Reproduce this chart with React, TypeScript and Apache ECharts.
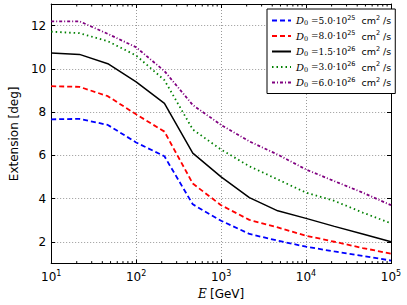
import React, { useEffect, useRef } from "react";
import * as echarts from "echarts";

const energies = [10, 21.54, 46.42, 100, 215.4, 464.2, 1000, 2154, 4642, 10000, 21544, 46416, 100000];
const seriesNames = ["5.0", "8.0", "1.5", "3.0", "6.0"];
const seriesExp = ["25", "25", "26", "26", "26"];
const blueVals = [7.67, 7.69, 7.41, 6.6, 5.96, 3.74, 2.98, 2.37, 2.06, 1.78, 1.56, 1.36, 1.14];
const redVals = [9.2, 9.17, 8.74, 7.9, 7.1, 4.7, 3.7, 3.02, 2.67, 2.29, 2.01, 1.72, 1.46];
const blackVals = [10.73, 10.67, 10.24, 9.4, 8.41, 6.11, 5.01, 4.05, 3.44, 3.09, 2.72, 2.37, 2.01];
const greenVals = [11.72, 11.65, 11.28, 10.62, 9.48, 7.2, 6.27, 5.5, 4.89, 4.28, 3.9, 3.36, 2.86];
const purpleVals = [12.2, 12.2, 11.62, 11.0, 9.9, 8.33, 7.41, 6.65, 6.04, 5.35, 4.81, 4.28, 3.7];
const yTicks = [2, 4, 6, 8, 10, 12];
const minorX = [20, 30, 40, 50, 60, 70, 80, 90, 200, 300, 400, 500, 600, 700, 800, 900, 2000, 3000, 4000, 5000, 6000, 7000, 8000, 9000, 20000, 30000, 40000, 50000, 60000, 70000, 80000, 90000];

export default function App() {
  const ref = useRef<HTMLDivElement>(null);
  useEffect(() => {
    const chart = echarts.init(ref.current!, null, { renderer: "svg" });
    const allVals = [blueVals, redVals, blackVals, greenVals, purpleVals];
    const colors = ["#0000ff", "#ff0000", "#000000", "#008000", "#800080"];
    const dashes: any[] = [[5, 3], [5, 3], "solid", [1.5, 3], [3, 2, 1, 2]];
    const widths = [1.8, 1.8, 1.5, 1.8, 1.8];
    const labelFor = (i: number) => "D" + i;
    const lineSeries = allVals.map((vals, i) => ({
      type: "line",
      name: labelFor(i),
      data: energies.map((e, j) => [e, vals[j]]),
      showSymbol: false,
      symbol: "none",
      color: colors[i],
      lineStyle: { color: colors[i], width: widths[i], type: dashes[i] },
      z: 3,
    }));
    const minorSeries = {
      type: "custom",
      data: minorX.map((v) => [v]),
      silent: true,
      z: 5,
      renderItem: (params: any, api: any) => {
        const v = api.value(0);
        const b = api.coord([v, 1]);
        const t = api.coord([v, 13]);
        return {
          type: "group",
          children: [
            { type: "line", shape: { x1: b[0], y1: b[1], x2: b[0], y2: b[1] - 2.5 }, style: { stroke: "#000", lineWidth: 1 } },
            { type: "line", shape: { x1: t[0], y1: t[1], x2: t[0], y2: t[1] + 2.5 }, style: { stroke: "#000", lineWidth: 1 } },
          ],
        };
      },
    };
    const legendFormatter = (name: string) => {
      const i = Number(name.slice(1));
      return `{d|D}{sub|0}{m| =${seriesNames[i]}·10}{sup|${seriesExp[i]}}{t|  cm}{sup|2}{t| /s}`;
    };
    chart.setOption({
      animation: false,
      grid: { left: 36, right: 16, top: 4, bottom: 40 },
      legend: {
        left: 267,
        top: 9,
        orient: "vertical",
        backgroundColor: "#fff",
        borderColor: "#000",
        borderWidth: 1,
        borderRadius: 0,
        padding: [5, 4, 5, 4],
        itemGap: 3,
        itemWidth: 19,
        itemHeight: 13,
        formatter: legendFormatter,
        itemStyle: { opacity: 0 },
        textStyle: {
          rich: {
            d: { fontFamily: "DejaVu Serif", fontStyle: "italic", fontSize: 10, color: "#000" },
            sub: { fontFamily: "DejaVu Serif", fontSize: 6.5, padding: [5, 0, 0, 0], color: "#000" },
            m: { fontFamily: "DejaVu Serif", fontSize: 9, color: "#000" },
            sup: { fontFamily: "DejaVu Sans", fontSize: 6.5, padding: [0, 0, 6, 0], color: "#000" },
            t: { fontFamily: "DejaVu Sans", fontSize: 9.5, color: "#000" },
          },
        },
        data: allVals.map((_, i) => labelFor(i)),
      },
      xAxis: [
        {
          type: "log",
          logBase: 10,
          min: 10,
          max: 100000,
          name: "{e|E} {t|[GeV]}",
          nameLocation: "middle",
          nameGap: 24,
          nameTextStyle: {
            rich: {
              e: { fontFamily: "DejaVu Serif", fontStyle: "italic", fontSize: 12, color: "#000" },
              t: { fontFamily: "DejaVu Sans", fontSize: 12, color: "#000" },
            },
          },
          axisLine: { lineStyle: { color: "#000", width: 1 } },
          axisTick: { inside: true, length: 4, lineStyle: { color: "#000" } },
          axisLabel: {
            margin: 6,
            formatter: (v: number) => `{b|10}{s|${Math.round(Math.log10(v))}}`,
            rich: {
              b: { fontFamily: "DejaVu Sans", fontSize: 12, color: "#000" },
              s: { fontFamily: "DejaVu Sans", fontSize: 8, padding: [0, 0, 7, 0], color: "#000" },
            },
          },
          splitLine: { show: true, lineStyle: { color: "#999", type: [1, 2], width: 1 } },
        },
        {
          type: "log",
          logBase: 10,
          min: 10,
          max: 100000,
          position: "top",
          axisLine: { lineStyle: { color: "#000", width: 1 } },
          axisTick: { inside: true, length: 4, lineStyle: { color: "#000" } },
          axisLabel: { show: false },
          splitLine: { show: false },
        },
      ],
      yAxis: [
        {
          type: "value",
          min: 1,
          max: 13,
          name: "Extension [deg]",
          nameLocation: "middle",
          nameGap: 24,
          nameTextStyle: { fontFamily: "DejaVu Sans", fontSize: 12, color: "#000" },
          axisLine: { show: true, lineStyle: { color: "#000", width: 1 } },
          axisTick: { show: true, inside: true, length: 4, customValues: yTicks, lineStyle: { color: "#000" } },
          axisLabel: { customValues: yTicks, margin: 5, fontFamily: "DejaVu Sans", fontSize: 12, color: "#000" },
          splitLine: { show: true, lineStyle: { color: "#999", type: [1, 2], width: 1 } },
        },
        {
          type: "value",
          min: 1,
          max: 13,
          position: "right",
          axisLine: { show: true, lineStyle: { color: "#000", width: 1 } },
          axisTick: { show: true, inside: true, length: 4, customValues: yTicks, lineStyle: { color: "#000" } },
          axisLabel: { show: false, customValues: yTicks },
          splitLine: { show: false },
        },
      ],
      series: [...lineSeries, minorSeries],
    });
    return () => chart.dispose();
  }, []);
  return <div ref={ref} style={{ width: 407, height: 305, position: "absolute", left: 0, top: 0 }} />;
}
